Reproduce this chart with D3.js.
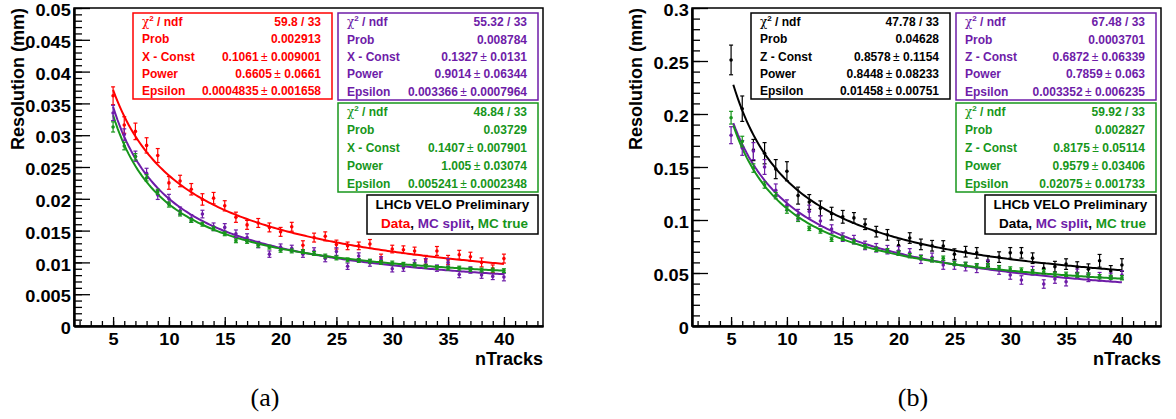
<!DOCTYPE html>
<html lang='en'>
<head>
	<meta charset='UTF-8'/>
	<title>VELO resolution vs nTracks</title>
	<script src='https://cdnjs.cloudflare.com/ajax/libs/d3/7.8.5/d3.min.js'></script>
	<style>
		body {margin: 0; background: #fff;}
		svg text {font-family: 'Liberation Sans', Arial, sans-serif; font-weight: bold;}
	</style>
</head>
<body>
	<div class='graph'></div>
	<script>
		// nTracks bins
		const nTracks = [5, 6, 7, 8, 9, 10, 11, 12, 13, 14, 15, 16, 17, 18, 19, 20, 21, 22,
			23, 24, 25, 26, 27, 28, 29, 30, 31, 32, 33, 34, 35, 36, 37, 38, 39, 40];

		// panel (a): X resolution
		const dataA = [0.0362, 0.0316, 0.0306, 0.0284, 0.0268, 0.0225, 0.0228, 0.0215, 0.0199, 0.0201,
			0.0189, 0.0171, 0.0159, 0.0162, 0.0155, 0.0148, 0.0156, 0.0127, 0.0139, 0.0141,
			0.0128, 0.0126, 0.0126, 0.0129, 0.0107, 0.0121, 0.0120, 0.0118, 0.0104, 0.0118,
			0.0104, 0.0112, 0.0109, 0.0100, 0.0090, 0.0106];
		const dataAErr = [0.0014, 0.0013, 0.0013, 0.0012, 0.0011, 0.0010, 0.0009, 0.0009, 0.0009, 0.0009,
			0.0008, 0.0008, 0.0007, 0.0007, 0.0007, 0.0007, 0.0007, 0.0007, 0.0007, 0.0007,
			0.0007, 0.0006, 0.0006, 0.0007, 0.0006, 0.0006, 0.0006, 0.0006, 0.0007, 0.0007,
			0.0007, 0.0007, 0.0007, 0.0007, 0.0006, 0.0007];
		const splitA = [0.0335, 0.0301, 0.0267, 0.0240, 0.0206, 0.0200, 0.0181, 0.0169, 0.0176, 0.0156,
			0.0155, 0.0145, 0.0139, 0.0128, 0.0113, 0.0124, 0.0122, 0.0113, 0.0118, 0.0106,
			0.0117, 0.0094, 0.0110, 0.0099, 0.0104, 0.0090, 0.0091, 0.0099, 0.0101, 0.0091,
			0.0100, 0.0081, 0.0088, 0.0080, 0.0078, 0.0077];
		const splitAErr = [0.0012, 0.0009, 0.0008, 0.0008, 0.0007, 0.0007, 0.0006, 0.0006, 0.0006, 0.0006,
			0.0006, 0.0006, 0.0006, 0.0005, 0.0005, 0.0005, 0.0005, 0.0005, 0.0005, 0.0005,
			0.0006, 0.0005, 0.0005, 0.0005, 0.0005, 0.0005, 0.0005, 0.0005, 0.0005, 0.0005,
			0.0006, 0.0005, 0.0005, 0.0005, 0.0005, 0.0006];
		const trueA = [0.0313, 0.0283, 0.0266, 0.0233, 0.0211, 0.0191, 0.0177, 0.0166, 0.0160, 0.0153,
			0.0145, 0.0134, 0.0133, 0.0127, 0.0124, 0.0119, 0.0118, 0.0117, 0.0114, 0.0110,
			0.0107, 0.0104, 0.0103, 0.0102, 0.0100, 0.0099, 0.0097, 0.0096, 0.0094, 0.0092,
			0.0091, 0.0091, 0.0089, 0.0088, 0.0088, 0.0087];
		const trueAErr = [0.0008, 0.0006, 0.0005, 0.0005, 0.0004, 0.0004, 0.0004, 0.0003, 0.0003, 0.0003,
			0.0003, 0.0003, 0.0003, 0.0003, 0.0003, 0.0003, 0.0003, 0.0003, 0.0003, 0.0003,
			0.0003, 0.0003, 0.0003, 0.0003, 0.0003, 0.0003, 0.0003, 0.0003, 0.0003, 0.0003,
			0.0003, 0.0003, 0.0003, 0.0003, 0.0003, 0.0003];

		// panel (b): Z resolution
		const dataB = [0.251, 0.205, 0.166, 0.163, 0.148, 0.146, 0.123, 0.117, 0.111, 0.106,
			0.103, 0.102, 0.096, 0.089, 0.086, 0.076, 0.083, 0.077, 0.0757, 0.0755,
			0.0678, 0.0701, 0.069, 0.0612, 0.065, 0.069, 0.069, 0.064, 0.0544, 0.056,
			0.0584, 0.0556, 0.0536, 0.0615, 0.052, 0.0575];
		const dataBErr = [0.014, 0.012, 0.010, 0.010, 0.009, 0.009, 0.008, 0.007, 0.007, 0.006,
			0.006, 0.005, 0.005, 0.005, 0.005, 0.005, 0.005, 0.005, 0.005, 0.005,
			0.005, 0.005, 0.005, 0.005, 0.005, 0.005, 0.005, 0.005, 0.005, 0.005,
			0.005, 0.005, 0.005, 0.006, 0.005, 0.006];
		const splitB = [0.180, 0.168, 0.165, 0.150, 0.128, 0.114, 0.105, 0.108, 0.099, 0.0915,
			0.0838, 0.0815, 0.076, 0.0738, 0.072, 0.071, 0.069, 0.063, 0.0648, 0.0575,
			0.0575, 0.056, 0.0544, 0.0582, 0.0528, 0.0481, 0.0434, 0.0522, 0.0396, 0.0443,
			0.0418, 0.0497, 0.0459, 0.0465, 0.0459, 0.0481];
		const splitBErr = [0.008, 0.007, 0.008, 0.007, 0.006, 0.005, 0.005, 0.006, 0.005, 0.004,
			0.004, 0.004, 0.004, 0.004, 0.004, 0.004, 0.004, 0.004, 0.004, 0.004,
			0.004, 0.004, 0.004, 0.004, 0.004, 0.004, 0.004, 0.004, 0.004, 0.004,
			0.004, 0.004, 0.004, 0.004, 0.004, 0.004];
		const trueB = [0.1965, 0.174, 0.149, 0.133, 0.123, 0.1094, 0.1016, 0.0921, 0.0896, 0.0818,
			0.0827, 0.0795, 0.0748, 0.0723, 0.071, 0.0686, 0.0663, 0.0645, 0.0623, 0.064,
			0.0591, 0.0582, 0.0569, 0.0569, 0.055, 0.0538, 0.0528, 0.0512, 0.0512, 0.0488,
			0.0488, 0.0481, 0.0481, 0.0465, 0.0459, 0.0455];
		const trueBErr = [0.006, 0.005, 0.004, 0.003, 0.003, 0.003, 0.003, 0.002, 0.002, 0.002,
			0.002, 0.002, 0.002, 0.002, 0.002, 0.002, 0.002, 0.002, 0.002, 0.002,
			0.002, 0.002, 0.002, 0.002, 0.002, 0.002, 0.002, 0.002, 0.002, 0.002,
			0.002, 0.002, 0.002, 0.002, 0.002, 0.002];

		// fit parameters: Const, Power, Epsilon  ->  Const / n^Power + Epsilon
		const fitDataA = [0.1061, 0.6605, 0.0004835];
		const fitSplitA = [0.1327, 0.9014, 0.003366];
		const fitTrueA = [0.1407, 1.005, 0.005241];
		const fitDataB = [0.8578, 0.8448, 0.01458];
		const fitSplitB = [0.6872, 0.7859, 0.003352];
		const fitTrueB = [0.8175, 0.9579, 0.02075];

		// stat boxes
		const statLabelsA = ['χ2 / ndf', 'Prob', 'X - Const', 'Power', 'Epsilon'];
		const statLabelsB = ['χ2 / ndf', 'Prob', 'Z - Const', 'Power', 'Epsilon'];
		const statsDataA = ['59.8 / 33', '0.002913', '0.1061 ± 0.009001', '0.6605 ± 0.0661', '0.0004835 ± 0.001658'];
		const statsSplitA = ['55.32 / 33', '0.008784', '0.1327 ± 0.0131', '0.9014 ± 0.06344', '0.003366 ± 0.0007964'];
		const statsTrueA = ['48.84 / 33', '0.03729', '0.1407 ± 0.007901', '1.005 ± 0.03074', '0.005241 ± 0.0002348'];
		const statsDataB = ['47.78 / 33', '0.04628', '0.8578 ± 0.1154', '0.8448 ± 0.08233', '0.01458 ± 0.00751'];
		const statsSplitB = ['67.48 / 33', '0.0003701', '0.6872 ± 0.06339', '0.7859 ± 0.063', '0.003352 ± 0.006235'];
		const statsTrueB = ['59.92 / 33', '0.002827', '0.8175 ± 0.05114', '0.9579 ± 0.03406', '0.02075 ± 0.001733'];

		// axes
		const xTicks = [5, 10, 15, 20, 25, 30, 35, 40];
		const xLabels = ['5', '10', '15', '20', '25', '30', '35', '40'];
		const yTicksA = [0, 0.005, 0.01, 0.015, 0.02, 0.025, 0.03, 0.035, 0.04, 0.045, 0.05];
		const yLabelsA = ['0', '0.005', '0.01', '0.015', '0.02', '0.025', '0.03', '0.035', '0.04', '0.045', '0.05'];
		const yTicksB = [0, 0.05, 0.1, 0.15, 0.2, 0.25, 0.3];
		const yLabelsB = ['0', '0.05', '0.1', '0.15', '0.2', '0.25', '0.3'];

		const RED = '#ff0000', PURPLE = '#6e1ca8', GREEN = '#17961b', BLACK = '#000000';

		var width = 1176;
		var height = 419;
		var frameW = 469, frameTop = 8, frameBottom = 326;

		var svg = d3.select('.graph')
			.append('svg')
			.attr('width', width)
			.attr('height', height);

		function styleAxis(sel) {
			sel.select('.domain').attr('stroke', '#000').attr('stroke-width', 2);
			sel.selectAll('line').attr('stroke', '#000').attr('stroke-width', 1.3);
			// ROOT labels come out a little wider than Liberation Sans
			sel.selectAll('text')
				.attr('fill', '#000')
				.attr('transform', 'scale(1.07,1)')
				.style('font-size', '17px')
				.style('font-family', "'Liberation Sans', Arial, sans-serif")
				.style('font-weight', 'bold');
		}

		function drawPanel(p) {
			let x = d3.scaleLinear().domain([1.5, 43.5]).range([p.left, p.left + frameW]);
			let y = d3.scaleLinear().domain([0, p.yMax]).range([frameBottom, frameTop]);
			let g = svg.append('g');

			// frame
			g.append('rect')
				.attr('x', p.left).attr('y', frameTop)
				.attr('width', frameW).attr('height', frameBottom - frameTop)
				.attr('fill', 'none').attr('stroke', '#000').attr('stroke-width', 1.5);

			// y axis, ticks point inside
			g.append('g')
				.attr('transform', 'translate(' + p.left + ',0)')
				.call(d3.axisLeft(y).tickValues(y.ticks(p.yMinor)).tickSize(-8).tickSizeOuter(0).tickFormat(''))
				.call(styleAxis);
			g.append('g')
				.attr('transform', 'translate(' + p.left + ',0)')
				.call(d3.axisLeft(y).tickValues(p.yTicks).tickFormat((d, i) => p.yLabels[i])
					.tickSize(-16).tickSizeOuter(0).tickPadding(3))
				.call(styleAxis)
				.selectAll('text').attr('dy', '0.45em');

			// x axis
			g.append('g')
				.attr('transform', 'translate(0,' + frameBottom + ')')
				.call(d3.axisBottom(x).tickValues(x.ticks(42)).tickSize(-5).tickSizeOuter(0).tickFormat(''))
				.call(styleAxis);
			g.append('g')
				.attr('transform', 'translate(0,' + frameBottom + ')')
				.call(d3.axisBottom(x).tickValues(xTicks).tickFormat((d, i) => xLabels[i])
					.tickSize(-9).tickSizeOuter(0).tickPadding(7))
				.call(styleAxis);

			// axis titles
			g.append('text')
				.attr('transform', 'translate(' + (p.left - 50) + ',' + frameTop + ') rotate(-90)')
				.attr('text-anchor', 'end')
				.style('font-size', '18px')
				.text('Resolution (mm)');
			g.append('text')
				.attr('x', p.left + frameW)
				.attr('y', 365)
				.attr('text-anchor', 'end')
				.style('font-size', '18px')
				.text('nTracks');

			// fit curves
			let line = d3.line().x(d => x(d[0])).y(d => y(d[1]));
			p.series.forEach(s => {
				let f = s.fit;
				let pts = d3.range(p.fitFrom, 40.001, 0.2).map(n => [n, f[0] / Math.pow(n, f[1]) + f[2]]);
				g.append('path')
					.attr('d', line(pts))
					.attr('fill', 'none')
					.attr('stroke', s.color)
					.attr('stroke-width', 2);
			});

			// points with error bars
			p.series.forEach(s => {
				let pg = g.append('g').attr('stroke', s.color).attr('fill', s.color);
				let pts = nTracks.map((n, i) => ({n: n, v: s.values[i], e: s.errors[i]}));
				pg.selectAll('.err').data(pts).enter().append('line')
					.attr('x1', d => x(d.n)).attr('x2', d => x(d.n))
					.attr('y1', d => y(d.v - d.e)).attr('y2', d => y(d.v + d.e))
					.attr('stroke-width', 1.2);
				pg.selectAll('.capHi').data(pts).enter().append('line')
					.attr('x1', d => x(d.n) - 2).attr('x2', d => x(d.n) + 2)
					.attr('y1', d => y(d.v + d.e)).attr('y2', d => y(d.v + d.e))
					.attr('stroke-width', 1.2);
				pg.selectAll('.capLo').data(pts).enter().append('line')
					.attr('x1', d => x(d.n) - 2).attr('x2', d => x(d.n) + 2)
					.attr('y1', d => y(d.v - d.e)).attr('y2', d => y(d.v - d.e))
					.attr('stroke-width', 1.2);
				pg.selectAll('circle').data(pts).enter().append('circle')
					.attr('cx', d => x(d.n)).attr('cy', d => y(d.v))
					.attr('r', 1.8).attr('stroke', 'none');
			});

			// stat boxes
			p.boxes.forEach(b => drawStatBox(b));

			// LHCb label box
			let lb = p.lhcb;
			svg.append('rect')
				.attr('x', lb.x).attr('y', 195).attr('width', lb.w).attr('height', 39)
				.attr('fill', '#fff').attr('stroke', '#000').attr('stroke-width', 1.5);
			svg.append('text')
				.attr('x', lb.x + lb.w / 2).attr('y', 209)
				.attr('text-anchor', 'middle')
				.style('font-size', '13.5px')
				.text('LHCb VELO Preliminary');
			let t = svg.append('text')
				.attr('x', lb.x + lb.w / 2 + 2).attr('y', 228)
				.attr('text-anchor', 'middle')
				.style('font-size', '13.5px');
			t.append('tspan').attr('fill', p.series[0].color).text('Data');
			t.append('tspan').attr('fill', '#000').text(', ');
			t.append('tspan').attr('fill', PURPLE).text('MC split');
			t.append('tspan').attr('fill', '#000').text(', ');
			t.append('tspan').attr('fill', GREEN).text('MC true');
		}

		function drawStatBox(b) {
			svg.append('rect')
				.attr('x', b.x).attr('y', b.y).attr('width', b.w).attr('height', b.h)
				.attr('fill', '#fff').attr('stroke', b.color).attr('stroke-width', 1.5);
			let rowH = b.h / 5;
			b.labels.forEach((lab, i) => {
				let ty = b.y + rowH * (i + 0.5) + 4.5;
				let tl = svg.append('text')
					.attr('x', b.x + 9).attr('y', ty)
					.attr('fill', b.color)
					.style('font-size', '12px');
				if (lab.startsWith('χ2')) {
					tl.append('tspan').style('font-family', "'DejaVu Serif', serif").style('font-weight', 'normal').text('χ');
					tl.append('tspan').attr('dy', -5).style('font-size', '8px').text('2');
					tl.append('tspan').attr('dy', 5).text(lab.slice(2));
				} else {
					tl.text(lab);
				}
				let val = b.values[i].split(' ± ');
				let tv = svg.append('text')
					.attr('x', b.x + b.w - 11).attr('y', ty)
					.attr('text-anchor', 'end')
					.attr('fill', b.color)
					.style('font-size', '12px');
				tv.append('tspan').text(val[0]);
				if (val.length > 1) {
					tv.append('tspan').style('font-weight', 'normal').text('\u2009± ');
					tv.append('tspan').text(val[1]);
				}
			});
		}

		drawPanel({
			left: 74, yMax: 0.05, yMinor: 50, yTicks: yTicksA, yLabels: yLabelsA, fitFrom: 5,
			series: [
				{color: RED, values: dataA, errors: dataAErr, fit: fitDataA},
				{color: PURPLE, values: splitA, errors: splitAErr, fit: fitSplitA},
				{color: GREEN, values: trueA, errors: trueAErr, fit: fitTrueA}
			],
			boxes: [
				{x: 133, y: 13, w: 199, h: 86, color: RED, labels: statLabelsA, values: statsDataA},
				{x: 338, y: 13, w: 200, h: 87, color: PURPLE, labels: statLabelsA, values: statsSplitA},
				{x: 338, y: 103, w: 200, h: 89, color: GREEN, labels: statLabelsA, values: statsTrueA}
			],
			lhcb: {x: 367, w: 171}
		});

		drawPanel({
			left: 692, yMax: 0.3, yMinor: 30, yTicks: yTicksB, yLabels: yLabelsB, fitFrom: 5.2,
			series: [
				{color: BLACK, values: dataB, errors: dataBErr, fit: fitDataB},
				{color: PURPLE, values: splitB, errors: splitBErr, fit: fitSplitB},
				{color: GREEN, values: trueB, errors: trueBErr, fit: fitTrueB}
			],
			boxes: [
				{x: 751, y: 13, w: 199, h: 86, color: BLACK, labels: statLabelsB, values: statsDataB},
				{x: 956, y: 13, w: 200, h: 87, color: PURPLE, labels: statLabelsB, values: statsSplitB},
				{x: 956, y: 103, w: 200, h: 89, color: GREEN, labels: statLabelsB, values: statsTrueB}
			],
			lhcb: {x: 985, w: 171}
		});

		// sub-figure captions
		[['(a)', 265], ['(b)', 913]].forEach(c => {
			svg.append('text')
				.attr('x', c[1]).attr('y', 406)
				.attr('text-anchor', 'middle')
				.style('font-family', "'Liberation Serif', 'DejaVu Serif', serif")
				.style('font-weight', 'normal')
				.style('font-size', '26px')
				.text(c[0]);
		});
	</script>
</body>
</html>
